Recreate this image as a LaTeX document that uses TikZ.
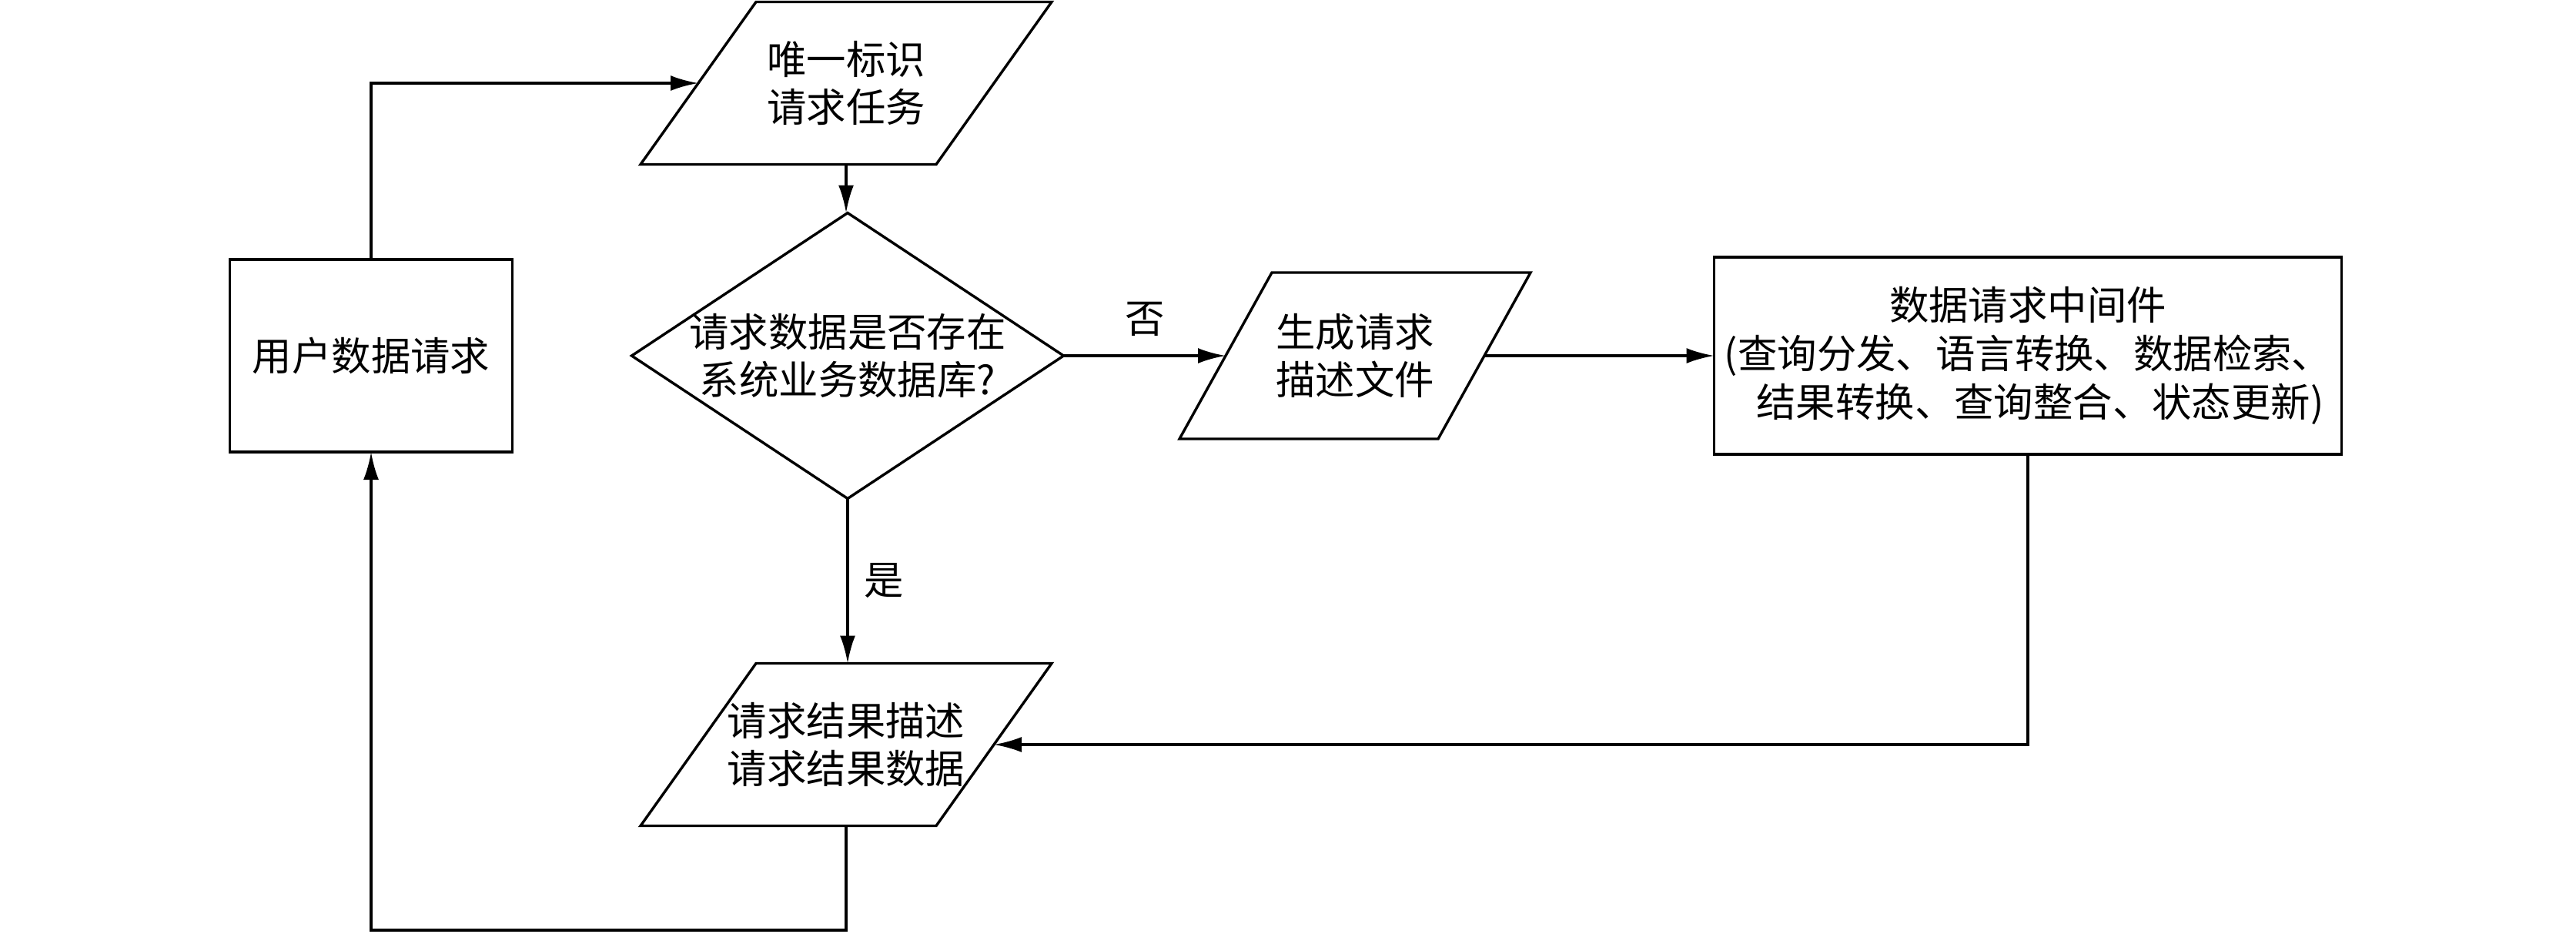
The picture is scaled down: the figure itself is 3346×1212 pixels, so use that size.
\documentclass[tikz,border=0pt]{standalone}
\usepackage{fontspec}
\setmainfont{Liberation Serif}
\newfontfamily\cjk{Noto Sans CJK SC}
\usetikzlibrary{shapes.geometric,arrows.meta}
\tikzset{
  base/.style={draw, line width=0.85pt, outer sep=0pt, inner sep=2pt, align=center,
    font=\cjk\fontsize{12.85pt}{15.7pt}\selectfont},
  boxnode/.style={base, rectangle},
  dec/.style={base, diamond, inner sep=0pt, minimum width=140.25pt, minimum height=92.75pt},
  paratext/.style={base, draw=none, rectangle},
  paraline/.style={line width=0.85pt, line join=miter},
  arr/.style={line width=0.85pt, -{Latex[length=9pt,width=5pt]}},
  lbl/.style={font=\cjk\fontsize{12.85pt}{15.7pt}\selectfont, inner sep=0pt, align=center}
}
\newcommand{\drawpara}[2]{% node name, horizontal offset
  \draw[paraline] ([xshift=-#2/2]#1.south west) -- ([xshift=-#2/2]#1.south east)
    -- ([xshift=#2/2]#1.north east) -- ([xshift=#2/2]#1.north west) -- cycle;}
\begin{document}
\begin{tikzpicture}[x=0.25pt,y=-0.25pt]
\useasboundingbox (0,0) rectangle (3346,1212);
\node[boxnode, minimum width=91.75pt, minimum height=62.5pt] (user) at (482,462) {用户数据请求};
\node[paratext, minimum width=96pt, minimum height=52.75pt] (p1) at (1099,108) {唯一标识\\请求任务};
\drawpara{p1}{37.5pt}
\node[dec] (dec) at (1101,462) {};
\node[lbl] (dect) at (dec.center) {请求数据是否存在\\系统业务数据库?};
\node[paratext, minimum width=84pt, minimum height=54pt] (p2) at (1760,462) {生成请求\\描述文件};
\drawpara{p2}{30pt}
\node[boxnode, minimum width=203.75pt, minimum height=64pt] (mid) at (2634,462) {数据请求中间件\\(查询分发、语言转换、数据检索、\\\hspace{8pt}结果转换、查询整合、状态更新)};
\node[paratext, minimum width=96pt, minimum height=52.75pt] (p3) at (1099,967) {请求结果描述\\请求结果数据};
\drawpara{p3}{37.5pt}
\coordinate (bot) at (0,1208);

\draw[arr] (user.north) |- (p1.west);
\draw[arr] (p1.south) -- (p1.south |- dec.north);
\draw[arr] (dec.east) -- node[lbl, above=6pt] {否} (p2.west);
\draw[arr] (p2.east) -- (mid.west);
\draw[arr] (mid.south) |- (p3.east);
\draw[arr] (dec.south) -- node[lbl, right=5pt] {是} (dec.south |- p3.north);
\draw[arr] (p3.south) -- (p3.south |- bot) -| (user.south);
\end{tikzpicture}
\end{document}
